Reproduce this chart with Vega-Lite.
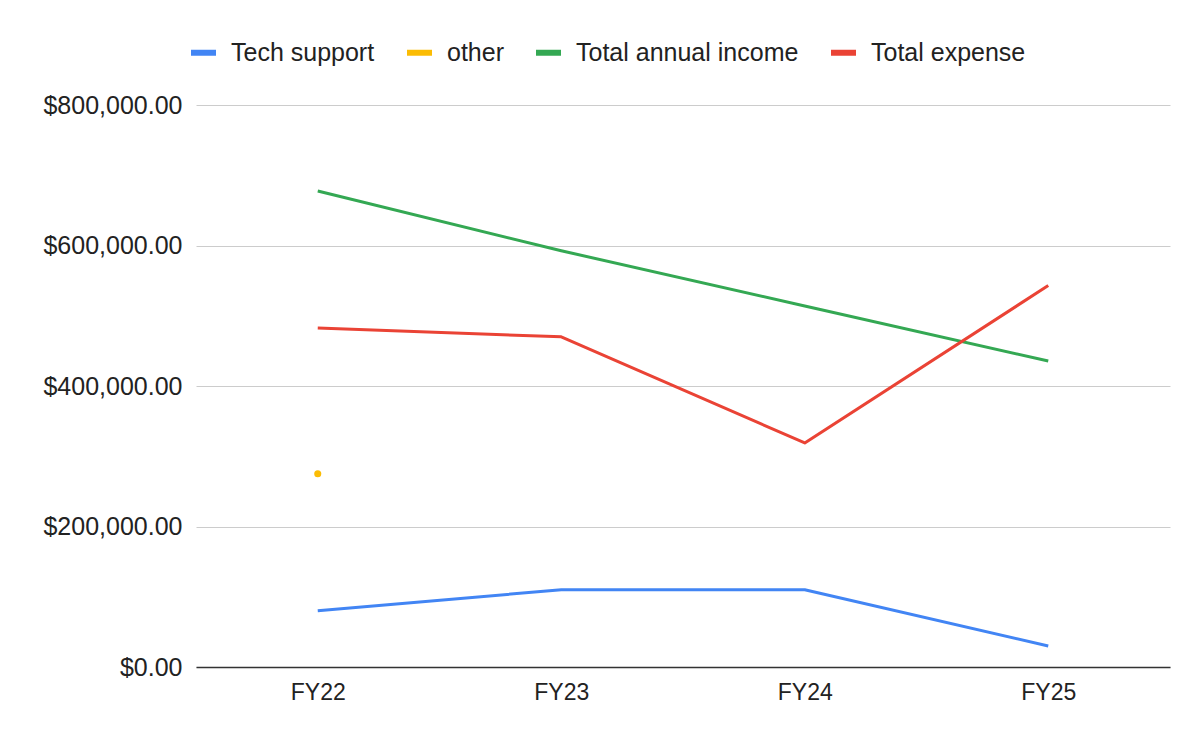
{
  "$schema": "https://vega.github.io/schema/vega-lite/v6.json",
  "width": 974,
  "height": 562,
  "autosize": {"type": "none"},
  "padding": {"left": 196, "top": 105, "right": 34, "bottom": 73},
  "background": "white",
  "config": {
    "view": {"stroke": null},
    "font": "Liberation Sans",
    "axis": {"labelFont": "Liberation Sans", "labelColor": "#222222"},
    "legend": {"labelFont": "Liberation Sans"}
  },
  "data": {
    "values": [
      {"year": "FY22", "series": "Tech support", "value": 80000},
      {"year": "FY23", "series": "Tech support", "value": 110000},
      {"year": "FY24", "series": "Tech support", "value": 110000},
      {"year": "FY25", "series": "Tech support", "value": 30000},
      {"year": "FY22", "series": "other", "value": 275000},
      {"year": "FY22", "series": "Total annual income", "value": 677500},
      {"year": "FY23", "series": "Total annual income", "value": 592500},
      {"year": "FY24", "series": "Total annual income", "value": 514000},
      {"year": "FY25", "series": "Total annual income", "value": 435500},
      {"year": "FY22", "series": "Total expense", "value": 482500},
      {"year": "FY23", "series": "Total expense", "value": 470000},
      {"year": "FY24", "series": "Total expense", "value": 319000},
      {"year": "FY25", "series": "Total expense", "value": 543000}
    ]
  },
  "encoding": {
    "x": {
      "field": "year",
      "type": "ordinal",
      "scale": {"type": "point", "padding": 0.5},
      "axis": {
        "title": null,
        "labelAngle": 0,
        "labelFontSize": 23,
        "labelPadding": 14,
        "ticks": false,
        "domain": true,
        "domainColor": "#333333",
        "domainWidth": 1.5,
        "grid": false
      }
    },
    "y": {
      "field": "value",
      "type": "quantitative",
      "scale": {"domain": [0, 800000]},
      "axis": {
        "title": null,
        "values": [0, 200000, 400000, 600000, 800000],
        "format": "$,.2f",
        "labelFontSize": 25,
        "labelPadding": 14,
        "ticks": false,
        "domain": false,
        "grid": true,
        "gridColor": "#cccccc",
        "gridWidth": 1
      }
    },
    "color": {
      "field": "series",
      "type": "nominal",
      "scale": {
        "domain": ["Tech support", "other", "Total annual income", "Total expense"],
        "range": ["#4285F4", "#FBBC04", "#34A853", "#EA4335"]
      },
      "legend": {
        "title": null,
        "orient": "none",
        "direction": "horizontal",
        "legendX": -5,
        "legendY": -65,
        "padding": 0,
        "labelFontSize": 25,
        "labelColor": "#222222",
        "labelOffset": 15,
        "columnPadding": 32,
        "symbolType": "M-1,-0.24H1V0.24H-1Z",
        "symbolSize": 625,
        "symbolStrokeWidth": 0,
        "symbolOpacity": 1,
        "labelLimit": 400
      }
    }
  },
  "layer": [
    {
      "mark": {"type": "line", "strokeWidth": 3, "strokeJoin": "round"}
    },
    {
      "transform": [{"filter": "datum.series === 'other'"}],
      "mark": {"type": "circle", "size": 50, "opacity": 1}
    }
  ]
}
